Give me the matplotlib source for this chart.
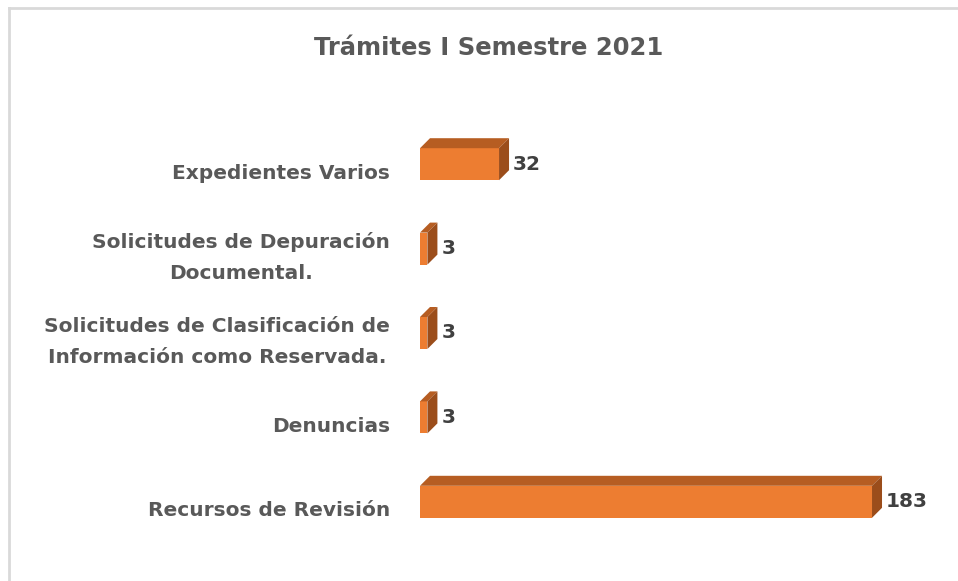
import matplotlib.pyplot as plt
from matplotlib.patches import Polygon, Rectangle
from matplotlib.lines import Line2D

# ── data ──────────────────────────────────────────────────────────────────────
categories = [
    "Expedientes Varios",
    "Solicitudes de Depuración\nDocumental.",
    "Solicitudes de Clasificación de\nInformación como Reservada.",
    "Denuncias",
    "Recursos de Revisión",
]
values = [32, 3, 3, 3, 183]
title = "Trámites I Semestre 2021"

# ── style ─────────────────────────────────────────────────────────────────────
FRONT = "#ED7D31"
TOP = "#B65D22"
SIDE = "#9B4D1B"
LABEL = "#595959"
VALUE = "#404040"
BORDER = "#D9D9D9"
FONT = "DejaVu Sans"

W, H, DPI = 958, 581, 100
fig = plt.figure(figsize=(W / DPI, H / DPI), dpi=DPI)
fig.patch.set_facecolor("white")

# axes placed in pixel terms: x=0 at 420px, y rows centred 164..502px
ax_left, ax_w = 420, 494
ax_top, ax_bot = 122, 544
ax = fig.add_axes([ax_left / W, 1 - ax_bot / H, ax_w / W, (ax_bot - ax_top) / H])
xmax = 200
ax.set_xlim(0, xmax)
ax.set_ylim(len(categories) - 0.5, -0.5)
ax.axis("off")

px_x = xmax / ax_w                       # data units per pixel (x)
px_y = len(categories) / (ax_bot - ax_top)  # data units per pixel (y)
dx, dy = 10 * px_x, 10 * px_y            # 3-D depth offset
bh = 32 * px_y                           # front face height

for i, v in enumerate(values):
    y0, y1 = i - bh / 2, i + bh / 2      # y0 is top (axis inverted)
    ax.add_patch(Rectangle((0, y0), v, bh, facecolor=FRONT, edgecolor="none"))
    ax.add_patch(Polygon([(0, y0), (v, y0), (v + dx, y0 - dy), (dx, y0 - dy)],
                         closed=True, facecolor=TOP, edgecolor="none"))
    ax.add_patch(Polygon([(v, y0), (v + dx, y0 - dy), (v + dx, y1 - dy), (v, y1)],
                         closed=True, facecolor=SIDE, edgecolor="none"))
    ax.text(v + dx + 4 * px_x, i, str(v), ha="left", va="center",
            fontsize=14.5, fontweight="bold", color=VALUE, family=FONT,
            clip_on=False)
    ax.text(-30 * px_x, i + 9 * px_y, categories[i], ha="right", va="center",
            multialignment="center", fontsize=14.5, fontweight="bold",
            color=LABEL, family=FONT, linespacing=1.75, clip_on=False)

fig.text(489 / W, 1 - 48 / H, title, ha="center", va="center",
         fontsize=17.5, fontweight="bold", color=LABEL, family=FONT)

# chart frame (only top and left edges are visible in the crop)
fig.add_artist(Line2D([9 / W, 9 / W], [0, 1 - 8 / H], color=BORDER, lw=2))
fig.add_artist(Line2D([9 / W, 1], [1 - 8 / H, 1 - 8 / H], color=BORDER, lw=2))

fig.savefig("out.png", dpi=DPI, facecolor="white")
